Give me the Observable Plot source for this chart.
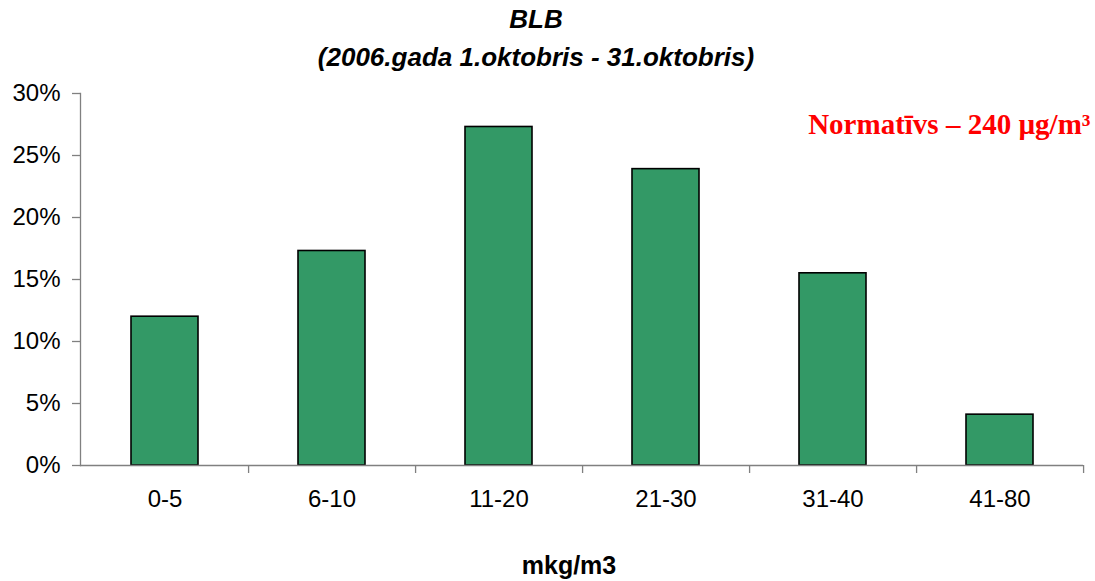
<!DOCTYPE html>
<html>
<head>
<meta charset="utf-8">
<script src="https://cdn.jsdelivr.net/npm/d3@7"></script>
<script src="https://cdn.jsdelivr.net/npm/@observablehq/plot@0.6"></script>
<style>
  html, body { margin: 0; padding: 0; background: #fff; }
  #wrap { width: 1095px; height: 581px; position: relative; font-family: "Liberation Sans", Arial, sans-serif; }
  #title { width: 1072px; text-align: center; font-weight: bold; font-style: italic; font-size: 26px; line-height: 38px; height: 80px; color: #000; padding-top: 0px; box-sizing: border-box; }
  #chart svg { display: block; }
</style>
</head>
<body>
<div id="wrap">
  <div id="title"><div>BLB</div><div>(2006.gada 1.oktobris - 31.oktobris)</div></div>
  <div id="chart"></div>
</div>
<script>
const categories = ["0-5", "6-10", "11-20", "21-30", "31-40", "41-80"];
const shares = [0.120, 0.173, 0.273, 0.239, 0.155, 0.041];
const yTicks = [0, 0.05, 0.10, 0.15, 0.20, 0.25, 0.30];
const annotation = ["Normatīvs – 240 µg/m³"];
const xLabel = "mkg/m3";

const data = categories.map((c, i) => ({category: c, share: shares[i]}));

const W = 1095, H = 501, mL = 80, mR = 12, mT = 13, mB = 116;
const step = (W - mL - mR) / categories.length;
const axisColor = "#808080";

const chart = Plot.plot({
  width: W,
  height: H,
  marginLeft: mL,
  marginRight: mR,
  marginTop: mT,
  marginBottom: mB,
  style: {fontFamily: "'Liberation Sans', Arial, sans-serif", color: "#000", background: "#fff", overflow: "visible"},
  x: {domain: categories, paddingInner: 0.6, paddingOuter: 0.3, label: null},
  y: {domain: [0, 0.30], label: null},
  marks: [
    Plot.barY(data, {x: "category", y: "share", fill: "#339966", stroke: "#000", strokeWidth: 1.6}),
    Plot.ruleY([0], {stroke: axisColor, strokeWidth: 1.3}),
    Plot.frame({anchor: "left", stroke: axisColor, strokeWidth: 1.3}),
    Plot.ruleX(categories, {x: d => d, dx: step / 2, insetTop: H - mT - mB, insetBottom: -8, stroke: axisColor, strokeWidth: 1.3}),
    Plot.axisY({ticks: yTicks, tickFormat: d3.format(".0%"), tickSize: 8, tickPadding: 12, stroke: axisColor, strokeWidth: 1.3, fontSize: 24, fill: "#000", label: null}),
    Plot.axisX({tickSize: 0, tickPadding: 24, fontSize: 24, fill: "#000", label: null}),
    Plot.text([xLabel], {text: d => d, frameAnchor: "bottom", dx: -13, dy: 100, fontSize: 25, fontWeight: "bold", fill: "#000", lineAnchor: "middle"}),
    Plot.text(annotation, {text: d => d, frameAnchor: "top-right", dx: 7, dy: 31, lineAnchor: "middle", fill: "#ff0000", fontSize: 29, fontWeight: "bold", fontFamily: "'Liberation Serif', 'Times New Roman', serif", textAnchor: "end"})
  ]
});
document.getElementById("chart").appendChild(chart);
</script>
</body>
</html>
